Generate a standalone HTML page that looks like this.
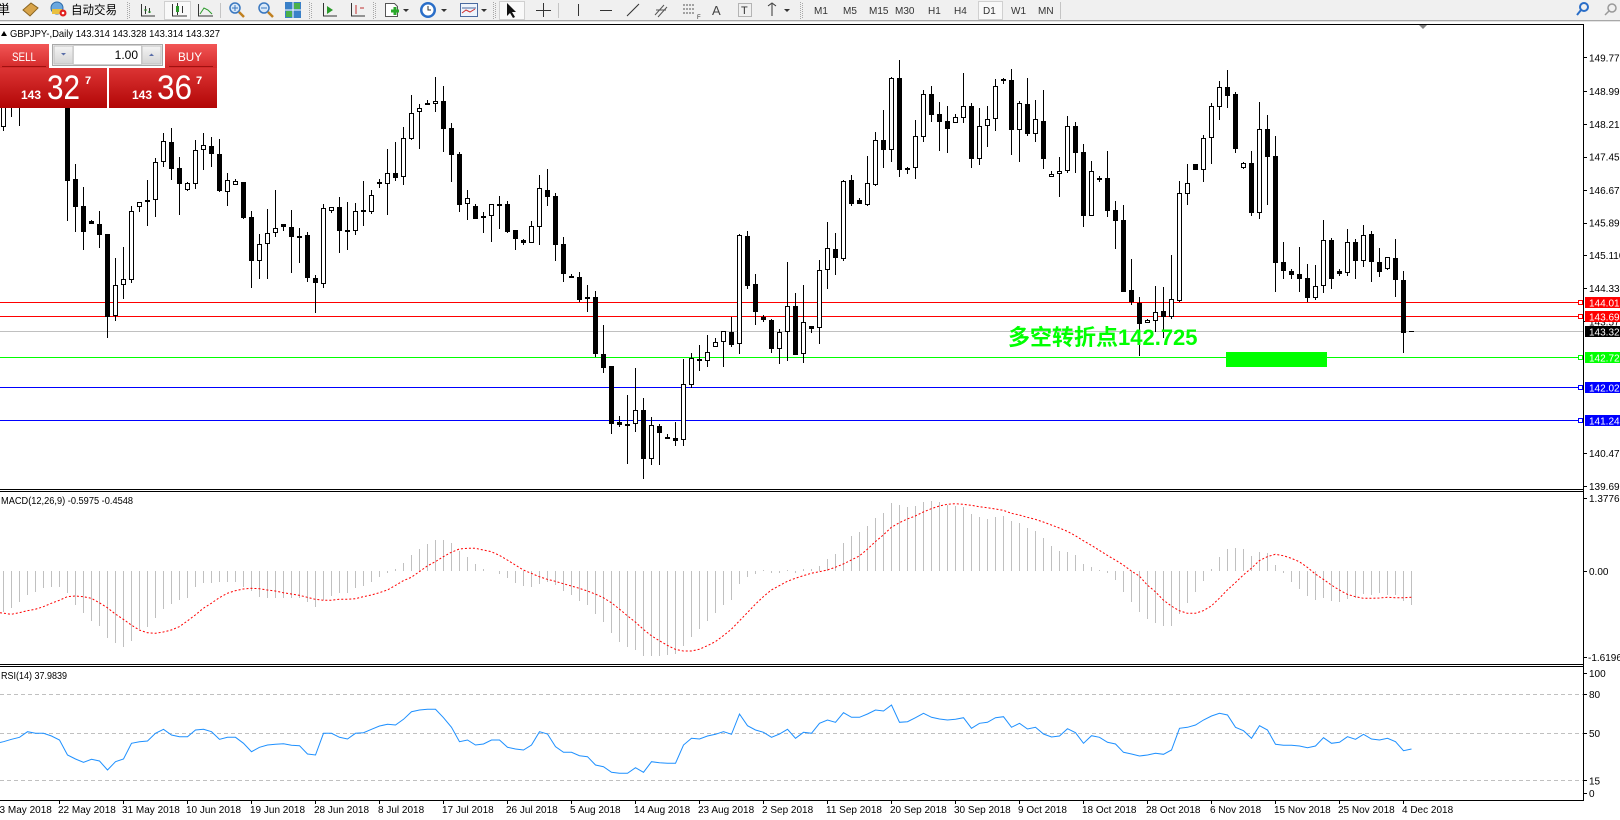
<!DOCTYPE html>
<html><head><meta charset="utf-8"><style>
html,body{margin:0;padding:0;background:#fff;width:1620px;height:820px;overflow:hidden}
svg{display:block}
text{font-family:"Liberation Sans","Noto Sans CJK SC",sans-serif}
</style></head><body>
<svg width="1620" height="820" viewBox="0 0 1620 820" xmlns="http://www.w3.org/2000/svg">
<defs>
<linearGradient id="rh" x1="0" y1="0" x2="0" y2="1"><stop offset="0" stop-color="#f25656"/><stop offset="1" stop-color="#d42a2a"/></linearGradient>
<linearGradient id="rp" x1="0" y1="0" x2="0" y2="1"><stop offset="0" stop-color="#dc3434"/><stop offset="1" stop-color="#b20606"/></linearGradient>
<linearGradient id="gb" x1="0" y1="0" x2="0" y2="1"><stop offset="0" stop-color="#f4f4f4"/><stop offset="1" stop-color="#d4d4d4"/></linearGradient>
</defs>
<rect width="1620" height="820" fill="#fff"/>
<!-- toolbar -->
<rect x="0" y="0" width="1620" height="20" fill="#f0f0f0"/>
<line x1="0" y1="20.5" x2="1620" y2="20.5" stroke="#a8a8a8"/>
<line x1="0" y1="21.5" x2="1620" y2="21.5" stroke="#e4e4e4"/>
<text x="-3" y="14" font-size="13" fill="#000" font-family="Noto Sans CJK JP,sans-serif">単</text>
<polygon points="23,10 31,3 38,8 30,16" fill="#d8a44a" stroke="#8a6420"/>
<circle cx="57" cy="8" r="6" fill="#6aa8e0" stroke="#2d6aa8"/>
<path d="M52 9h10v5h-10z" fill="#e8c040"/>
<circle cx="63" cy="13" r="3.5" fill="#e02020"/><circle cx="63" cy="13" r="1.3" fill="#fff"/>
<text x="71" y="14" font-size="12" fill="#000" textLength="46" lengthAdjust="spacingAndGlyphs">自动交易</text>
<g stroke="#a8a8a8" stroke-dasharray="1,1">
<line x1="127.5" y1="2" x2="127.5" y2="19"/><line x1="129.5" y1="3" x2="129.5" y2="19"/>
<line x1="309.5" y1="2" x2="309.5" y2="19"/><line x1="311.5" y1="3" x2="311.5" y2="19"/>
<line x1="373.5" y1="2" x2="373.5" y2="19"/><line x1="375.5" y1="3" x2="375.5" y2="19"/>
<line x1="493.5" y1="2" x2="493.5" y2="19"/><line x1="495.5" y1="3" x2="495.5" y2="19"/>
<line x1="800.5" y1="2" x2="800.5" y2="19"/><line x1="802.5" y1="3" x2="802.5" y2="19"/>
</g>
<path d="M141.5 4V16H155M145.5 6V14M149.5 8V13" stroke="#333" fill="none"/>
<path d="M144 10h3M148 12h3" stroke="#2a9a2a"/>
<rect x="164.5" y="1.5" width="26" height="18" fill="#f9f9f9" stroke="#d0d0d0"/>
<path d="M172.5 4V16H187M177.5 3V15M182.5 6V13" stroke="#333" fill="none"/>
<rect x="176" y="6" width="3" height="6" fill="#2a9a2a"/>
<path d="M198.5 4V16H213" stroke="#333" fill="none"/>
<path d="M200 14L204 8L208 10L212 14" stroke="#2a9a2a" fill="none"/>
<line x1="220.5" y1="3" x2="220.5" y2="18" stroke="#c4c4c4"/>
<circle cx="235" cy="8" r="5" fill="#d8e8f8" stroke="#3a78c0" stroke-width="1.5"/>
<path d="M239 12l5 5" stroke="#c08020" stroke-width="2.5"/>
<path d="M232 8h6M235 5v6" stroke="#3a78c0"/>
<circle cx="264" cy="8" r="5" fill="#d8e8f8" stroke="#3a78c0" stroke-width="1.5"/>
<path d="M268 12l5 5" stroke="#c08020" stroke-width="2.5"/>
<path d="M261 8h6" stroke="#3a78c0"/>
<rect x="285" y="2" width="16" height="16" fill="#3a80c8"/>
<path d="M285 10h16M293 2v16" stroke="#fff"/>
<rect x="286" y="11" width="6" height="6" fill="#4ab04a"/><rect x="294" y="3" width="6" height="6" fill="#4ab04a"/>
<path d="M323.5 3V16H337" stroke="#333" fill="none"/><path d="M327 6l6 4-6 4z" fill="#2a9a2a"/>
<path d="M351.5 3V16H365" stroke="#333" fill="none"/><path d="M356 5v9M360 8h4" stroke="#c03030"/>
<path d="M385.5 3.5h9l3 3v10h-12z" fill="#fff" stroke="#555"/>
<path d="M391 11h8M395 7v8" stroke="#2aa82a" stroke-width="3"/>
<path d="M403 9l3 3 3-3z" fill="#333"/>
<circle cx="428" cy="10" r="8" fill="#2a6ec8"/><circle cx="428" cy="10" r="5.5" fill="#fff"/>
<path d="M428 6v4h3" stroke="#333" fill="none"/>
<path d="M441 9l3 3 3-3z" fill="#333"/>
<rect x="460.5" y="3.5" width="17" height="13" fill="#eef4fc" stroke="#4a6aa0"/>
<path d="M462 8h14" stroke="#4a6aa0"/><path d="M462 13l4-3 4 2 5-3" stroke="#d03030" fill="none"/>
<path d="M481 9l3 3 3-3z" fill="#333"/>
<rect x="499.5" y="1.5" width="25" height="18" fill="#f9f9f9" stroke="#d0d0d0"/>
<path d="M507 3v13l3-3 3 5 2-1-3-5h4z" fill="#111"/>
<path d="M543.5 3v14M536 10.5h15" stroke="#333"/>
<line x1="558.5" y1="3" x2="558.5" y2="18" stroke="#c4c4c4"/>
<path d="M578.5 4v12" stroke="#333"/>
<path d="M600 10.5h12" stroke="#333"/>
<path d="M627 16l12-12" stroke="#333"/>
<path d="M655 15l9-10M658 17l9-10M656 10h10" stroke="#555"/>
<path d="M683 5h12M683 9h12M683 13h12" stroke="#555" stroke-dasharray="2,1"/>
<text x="697" y="19" font-size="6" fill="#333">F</text>
<text x="712" y="15" font-size="13" fill="#444">A</text>
<rect x="738.5" y="3.5" width="13" height="13" fill="none" stroke="#777" stroke-dasharray="1,1"/>
<text x="741" y="14" font-size="11" fill="#333">T</text>
<path d="M768 6l4-3 4 3M772 4v12" stroke="#333" fill="none"/>
<path d="M784 9l3 3 3-3z" fill="#333"/>
<path d="M777 9l3 3 3-3z" fill="none"/>
<g font-size="10" fill="#333">
<text x="814" y="14">M1</text><text x="843" y="14">M5</text><text x="869" y="14">M15</text><text x="895" y="14">M30</text>
<text x="928" y="14">H1</text><text x="954" y="14">H4</text>
</g>
<rect x="978.5" y="1.5" width="24" height="18" fill="#f8f8f8" stroke="#d0d0d0"/>
<g font-size="10" fill="#333"><text x="983" y="14">D1</text><text x="1011" y="14">W1</text><text x="1038" y="14">MN</text></g>
<line x1="1060.5" y1="2" x2="1060.5" y2="19" stroke="#c4c4c4"/>
<circle cx="1584" cy="7" r="4" fill="none" stroke="#2a6ec8" stroke-width="2"/>
<path d="M1581 10l-4 5" stroke="#2a6ec8" stroke-width="2"/>
<circle cx="1612" cy="8" r="4" fill="none" stroke="#999" stroke-width="1.5"/>
<path d="M1609 11l-4 4" stroke="#999" stroke-width="1.5"/>

<!-- header -->
<path d="M1 36l3-5 3 5z" fill="#000"/>
<text x="10" y="37" font-size="10.5" fill="#000" textLength="210" lengthAdjust="spacingAndGlyphs">GBPJPY-,Daily  143.314 143.328 143.314 143.327</text>

<!-- horizontal object lines -->
<line x1="0" y1="302.5" x2="1578" y2="302.5" stroke="#ff0000"/>
<line x1="0" y1="316.5" x2="1578" y2="316.5" stroke="#ff0000"/>
<line x1="0" y1="331.5" x2="1583" y2="331.5" stroke="#c0c0c0"/>
<line x1="0" y1="357.5" x2="1578" y2="357.5" stroke="#00ff00"/>
<line x1="0" y1="387.5" x2="1578" y2="387.5" stroke="#0000ff"/>
<line x1="0" y1="420.5" x2="1578" y2="420.5" stroke="#0000ff"/>
<g fill="#fff">
<rect x="1578.5" y="300.5" width="4" height="4" stroke="#ff0000"/>
<rect x="1578.5" y="314.5" width="4" height="4" stroke="#ff0000"/>
<rect x="1578.5" y="355.5" width="4" height="4" stroke="#00ff00"/>
<rect x="1578.5" y="385.5" width="4" height="4" stroke="#0000ff"/>
<rect x="1578.5" y="418.5" width="4" height="4" stroke="#0000ff"/>
</g>

<!-- candles: wicks -->
<path stroke="#000" stroke-width="1" fill="none" d="M3.5 90V131M11.5 96V117M19.5 100V126M27.5 75V100M35.5 72V98M43.5 70V100M51.5 74V102M59.5 76V103M67.5 95V221M75.5 164V232M83.5 187V250M91.5 220V224M99.5 211V248M107.5 234V338M115.5 258V321M123.5 247V299M131.5 206V283M139.5 202V212M147.5 180V226M155.5 158V217M163.5 133V167M171.5 128V180M179.5 157V215M187.5 182V191M195.5 140V189M203.5 133V170M211.5 137V167M219.5 139V192M227.5 173V206M235.5 179V185M243.5 182V219M251.5 211V288M259.5 234V279M267.5 209V279M275.5 190V237M283.5 224V231M291.5 210V273M299.5 228V263M307.5 232V282M315.5 275V313M323.5 204V288M331.5 207V213M339.5 197V253M347.5 202V250M355.5 203V235M363.5 181V226M371.5 190V214M379.5 179V188M387.5 149V215M395.5 142V181M403.5 127V185M411.5 95V140M419.5 104V149M427.5 100V104M435.5 77V112M443.5 86V152M451.5 123V182M459.5 152V212M467.5 190V220M475.5 204V219M483.5 212V233M491.5 204V242M499.5 196V229M507.5 201V233M515.5 230V250M523.5 239V245M531.5 221V243M539.5 175V245M547.5 169V206M555.5 193V261M563.5 237V282M571.5 274V278M579.5 272V302M587.5 285V312M595.5 291V357M603.5 325V373M611.5 366V434M619.5 416V427M627.5 395V464M635.5 368V432M643.5 398V479M651.5 417V465M659.5 424V465M667.5 434V439M675.5 422V446M683.5 359V446M691.5 353V388M699.5 345V371M707.5 335V367M715.5 338V347M723.5 331V367M731.5 317V347M739.5 234V354M747.5 231V289M755.5 274V325M763.5 315V322M771.5 319V353M779.5 329V364M787.5 262V361M795.5 293V355M803.5 285V363M811.5 326V333M819.5 260V344M827.5 222V289M835.5 233V275M843.5 180V261M851.5 175V206M859.5 198V204M867.5 156V206M875.5 132V186M883.5 110V168M891.5 77V162M899.5 60V177M907.5 167V174M915.5 120V179M923.5 90V142M931.5 86V122M939.5 102V151M947.5 106V153M955.5 114V123M963.5 73V123M971.5 103V168M979.5 108V165M987.5 106V147M995.5 79V131M1003.5 78V84M1011.5 69V155M1019.5 101V162M1027.5 78V136M1035.5 100V142M1043.5 90V169M1051.5 171V177M1059.5 157V197M1067.5 116V173M1075.5 122V173M1083.5 144V227M1091.5 161V216M1099.5 176V182M1107.5 151V217M1115.5 201V249M1123.5 205V292M1131.5 259V305M1139.5 297V356M1147.5 319V323M1155.5 286V332M1163.5 287V338M1171.5 255V319M1179.5 181V302M1187.5 164V205M1195.5 164V170M1203.5 135V182M1211.5 103V164M1219.5 81V120M1227.5 70V108M1235.5 92V153M1243.5 162V169M1251.5 151V216M1259.5 102V219M1267.5 115V205M1275.5 136V292M1283.5 242V279M1291.5 269V279M1299.5 247V292M1307.5 264V302M1315.5 265V300M1323.5 220V293M1331.5 238V289M1339.5 269V276M1347.5 229V276M1355.5 239V279M1363.5 225V267M1371.5 231V282M1379.5 248V277M1387.5 257V270M1395.5 239V297M1403.5 271V353"/>
<!-- black bodies -->
<path fill="#000" d="M17 103h5V107h-5zM25 80h5V95h-5zM41 76h5V90h-5zM57 82h5V96h-5zM65 100h5V181h-5zM73 179h5V207h-5zM81 206h5V232h-5zM89 221h5V224h-5zM97 224h5V235h-5zM105 234h5V317h-5zM169 142h5V169h-5zM177 168h5V184h-5zM209 146h5V154h-5zM217 154h5V191h-5zM241 182h5V218h-5zM249 217h5V261h-5zM281 224h5V227h-5zM289 227h5V237h-5zM297 236h5V238h-5zM305 235h5V278h-5zM313 278h5V283h-5zM337 207h5V231h-5zM345 230h5V232h-5zM361 210h5V212h-5zM377 182h5V184h-5zM393 173h5V178h-5zM425 103h5V105h-5zM441 101h5V129h-5zM449 128h5V155h-5zM457 154h5V205h-5zM473 206h5V219h-5zM497 204h5V206h-5zM505 204h5V232h-5zM513 230h5V239h-5zM521 240h5V243h-5zM545 190h5V197h-5zM553 196h5V245h-5zM561 244h5V274h-5zM569 276h5V278h-5zM577 277h5V300h-5zM593 297h5V354h-5zM601 354h5V368h-5zM609 366h5V424h-5zM617 422h5V425h-5zM625 424h5V426h-5zM641 410h5V459h-5zM657 426h5V433h-5zM665 437h5V439h-5zM673 438h5V441h-5zM697 359h5V361h-5zM729 332h5V345h-5zM745 236h5V286h-5zM753 284h5V312h-5zM761 317h5V320h-5zM769 320h5V349h-5zM793 306h5V355h-5zM809 326h5V329h-5zM833 249h5V258h-5zM849 180h5V204h-5zM857 200h5V204h-5zM881 140h5V150h-5zM897 78h5V170h-5zM905 168h5V170h-5zM929 94h5V115h-5zM937 114h5V122h-5zM945 121h5V129h-5zM969 106h5V159h-5zM1001 79h5V81h-5zM1009 80h5V130h-5zM1025 104h5V134h-5zM1041 121h5V159h-5zM1073 126h5V153h-5zM1081 152h5V216h-5zM1097 178h5V180h-5zM1105 178h5V211h-5zM1113 210h5V221h-5zM1121 220h5V292h-5zM1129 290h5V302h-5zM1137 303h5V324h-5zM1161 311h5V317h-5zM1193 164h5V170h-5zM1225 87h5V96h-5zM1233 94h5V149h-5zM1249 163h5V213h-5zM1265 129h5V157h-5zM1273 156h5V263h-5zM1281 262h5V271h-5zM1289 271h5V275h-5zM1297 274h5V279h-5zM1305 278h5V298h-5zM1329 240h5V279h-5zM1337 271h5V274h-5zM1353 242h5V261h-5zM1369 234h5V262h-5zM1377 262h5V272h-5zM1393 258h5V280h-5zM1401 280h5V333h-5zM1409 331h5V332h-5z"/>
<!-- white bodies -->
<g fill="#fff" stroke="#000" stroke-width="1">
<rect x="1.5" y="98.5" width="4" height="28"/><rect x="9.5" y="98.5" width="4" height="6"/><rect x="33.5" y="78.5" width="4" height="13"/><rect x="49.5" y="80.5" width="4" height="14"/>
<rect x="113.5" y="285.5" width="4" height="30"/><rect x="121.5" y="279.5" width="4" height="5"/><rect x="129.5" y="211.5" width="4" height="68"/><rect x="137.5" y="202.5" width="4" height="4"/>
<rect x="145.5" y="200.5" width="4" height="1"/><rect x="153.5" y="162.5" width="4" height="37"/><rect x="161.5" y="141.5" width="4" height="20"/><rect x="185.5" y="183.5" width="4" height="6"/>
<rect x="193.5" y="150.5" width="4" height="33"/><rect x="201.5" y="145.5" width="4" height="4"/><rect x="225.5" y="180.5" width="4" height="11"/><rect x="233.5" y="181.5" width="4" height="3"/>
<rect x="257.5" y="244.5" width="4" height="16"/><rect x="265.5" y="233.5" width="4" height="10"/><rect x="273.5" y="228.5" width="4" height="4"/><rect x="321.5" y="208.5" width="4" height="75"/>
<rect x="329.5" y="207.5" width="4" height="3"/><rect x="353.5" y="211.5" width="4" height="19"/><rect x="369.5" y="195.5" width="4" height="16"/><rect x="385.5" y="173.5" width="4" height="10"/>
<rect x="401.5" y="138.5" width="4" height="38"/><rect x="409.5" y="113.5" width="4" height="25"/><rect x="417.5" y="108.5" width="4" height="3"/><rect x="433.5" y="101.5" width="4" height="2"/>
<rect x="465.5" y="198.5" width="4" height="5"/><rect x="481.5" y="216.5" width="4" height="1"/><rect x="489.5" y="204.5" width="4" height="11"/><rect x="529.5" y="226.5" width="4" height="16"/>
<rect x="537.5" y="188.5" width="4" height="38"/><rect x="585.5" y="297.5" width="4" height="1"/><rect x="633.5" y="410.5" width="4" height="13"/><rect x="649.5" y="425.5" width="4" height="33"/>
<rect x="681.5" y="384.5" width="4" height="55"/><rect x="689.5" y="358.5" width="4" height="26"/><rect x="705.5" y="352.5" width="4" height="8"/><rect x="713.5" y="342.5" width="4" height="4"/>
<rect x="721.5" y="331.5" width="4" height="10"/><rect x="737.5" y="235.5" width="4" height="108"/><rect x="777.5" y="332.5" width="4" height="16"/><rect x="785.5" y="306.5" width="4" height="25"/>
<rect x="801.5" y="322.5" width="4" height="31"/><rect x="817.5" y="270.5" width="4" height="57"/><rect x="825.5" y="248.5" width="4" height="21"/><rect x="841.5" y="181.5" width="4" height="77"/>
<rect x="865.5" y="183.5" width="4" height="21"/><rect x="873.5" y="140.5" width="4" height="44"/><rect x="889.5" y="78.5" width="4" height="71"/><rect x="913.5" y="136.5" width="4" height="31"/>
<rect x="921.5" y="94.5" width="4" height="42"/><rect x="953.5" y="117.5" width="4" height="5"/><rect x="961.5" y="106.5" width="4" height="11"/><rect x="977.5" y="126.5" width="4" height="32"/>
<rect x="985.5" y="119.5" width="4" height="6"/><rect x="993.5" y="86.5" width="4" height="32"/><rect x="1017.5" y="103.5" width="4" height="26"/><rect x="1033.5" y="119.5" width="4" height="14"/>
<rect x="1049.5" y="174.5" width="4" height="2"/><rect x="1057.5" y="171.5" width="4" height="2"/><rect x="1065.5" y="126.5" width="4" height="44"/><rect x="1089.5" y="171.5" width="4" height="44"/>
<rect x="1145.5" y="320.5" width="4" height="2"/><rect x="1153.5" y="312.5" width="4" height="8"/><rect x="1169.5" y="299.5" width="4" height="17"/><rect x="1177.5" y="193.5" width="4" height="107"/>
<rect x="1185.5" y="183.5" width="4" height="10"/><rect x="1201.5" y="138.5" width="4" height="31"/><rect x="1209.5" y="106.5" width="4" height="31"/><rect x="1217.5" y="87.5" width="4" height="19"/>
<rect x="1241.5" y="163.5" width="4" height="4"/><rect x="1257.5" y="129.5" width="4" height="83"/><rect x="1313.5" y="286.5" width="4" height="11"/><rect x="1321.5" y="240.5" width="4" height="45"/>
<rect x="1345.5" y="242.5" width="4" height="30"/><rect x="1361.5" y="235.5" width="4" height="25"/><rect x="1385.5" y="257.5" width="4" height="11"/>
</g>

<!-- annotation -->
<text x="1008" y="345" font-size="22" font-weight="bold" fill="#00ff00">多空转折点142.725</text>
<rect x="1226" y="352" width="101" height="15" fill="#00ff00"/>

<!-- chart shift marker -->
<polygon points="1419,25 1427,25 1423,29" fill="#808080"/>

<!-- SELL / BUY panel -->
<rect x="0" y="44" width="49" height="24" fill="url(#rh)"/>
<line x1="2" y1="66.5" x2="46" y2="66.5" stroke="#a01010"/>
<text x="24" y="61" font-size="12" fill="#fff" text-anchor="middle" textLength="24" lengthAdjust="spacingAndGlyphs">SELL</text>
<rect x="52.5" y="44.5" width="110" height="21" fill="#f4f4f4" stroke="#a8a8a8"/>
<rect x="54" y="46" width="19" height="18" fill="url(#gb)" stroke="#c0c0c0"/>
<rect x="73.5" y="45.5" width="68" height="19" fill="#fff" stroke="#d0d0d0"/>
<rect x="142" y="46" width="19" height="18" fill="url(#gb)" stroke="#c0c0c0"/>
<path d="M61 53l2.5 2.5 2.5-2.5z" fill="#5a6ea8"/>
<path d="M149 56l2.5-2.5 2.5 2.5z" fill="#5a6ea8"/>
<text x="138" y="59" font-size="12" fill="#000" text-anchor="end">1.00</text>
<rect x="165" y="44" width="52" height="24" fill="url(#rh)"/>
<line x1="169" y1="66.5" x2="213" y2="66.5" stroke="#a01010"/>
<text x="190" y="61" font-size="12" fill="#fff" text-anchor="middle" textLength="24" lengthAdjust="spacingAndGlyphs">BUY</text>
<rect x="0" y="68" width="107" height="40" fill="url(#rp)"/>
<rect x="109" y="68" width="108" height="40" fill="url(#rp)"/>
<g fill="#fff">
<text x="21" y="99" font-size="12" font-weight="bold" textLength="20" lengthAdjust="spacingAndGlyphs">143</text>
<text x="47" y="99" font-size="34" textLength="33" lengthAdjust="spacingAndGlyphs">32</text>
<text x="85" y="84" font-size="11" font-weight="bold">7</text>
<text x="132" y="99" font-size="12" font-weight="bold" textLength="20" lengthAdjust="spacingAndGlyphs">143</text>
<text x="157" y="99" font-size="34" textLength="35" lengthAdjust="spacingAndGlyphs">36</text>
<text x="196" y="84" font-size="11" font-weight="bold">7</text>
</g>

<!-- MACD histogram -->
<path stroke="#c0c0c0" stroke-width="1" fill="none" d="M3.5 571V612M11.5 571V608M19.5 571V602M27.5 571V595M35.5 571V592M43.5 571V588M51.5 571V587M59.5 571V587M67.5 571V593M75.5 571V605M83.5 571V613M91.5 571V621M99.5 571V626M107.5 571V638M115.5 571V643M123.5 571V647M131.5 571V641M139.5 571V629M147.5 571V627M155.5 571V618M163.5 571V609M171.5 571V604M179.5 571V600M187.5 571V598M195.5 571V587M203.5 571V583M211.5 571V583M219.5 571V582M227.5 571V582M235.5 571V582M243.5 571V587M251.5 571V591M259.5 571V597M267.5 571V598M275.5 571V598M283.5 571V598M291.5 571V598M299.5 571V598M307.5 571V602M315.5 571V607M323.5 571V600M331.5 571V596M339.5 571V593M347.5 571V593M355.5 571V588M363.5 571V586M371.5 571V582M379.5 571V577M387.5 571V573M395.5 571V569M403.5 571V563M411.5 571V555M419.5 571V549M427.5 571V544M435.5 571V540M443.5 571V540M451.5 571V543M459.5 571V551M467.5 571V557M475.5 571V564M483.5 571V569M499.5 571V574M507.5 571V578M515.5 571V583M523.5 571V586M531.5 571V587M539.5 571V584M547.5 571V582M555.5 571V585M563.5 571V591M571.5 571V595M579.5 571V601M587.5 571V605M595.5 571V614M603.5 571V622M611.5 571V633M619.5 571V642M627.5 571V647M635.5 571V650M643.5 571V656M651.5 571V656M659.5 571V656M667.5 571V655M675.5 571V654M683.5 571V646M691.5 571V637M699.5 571V629M707.5 571V621M715.5 571V613M723.5 571V605M731.5 571V600M739.5 571V584M747.5 571V577M755.5 571V574M763.5 571V570M771.5 571V573M779.5 571V573M787.5 571V570M795.5 571V573M803.5 571V569M811.5 571V569M819.5 571V566M827.5 571V559M835.5 571V554M843.5 571V543M851.5 571V536M859.5 571V532M867.5 571V526M875.5 571V518M883.5 571V513M891.5 571V503M899.5 571V505M907.5 571V507M915.5 571V506M923.5 571V502M931.5 571V501M939.5 571V502M947.5 571V505M955.5 571V506M963.5 571V507M971.5 571V514M979.5 571V517M987.5 571V519M995.5 571V517M1003.5 571V516M1011.5 571V521M1019.5 571V523M1027.5 571V528M1035.5 571V531M1043.5 571V538M1051.5 571V546M1059.5 571V551M1067.5 571V552M1075.5 571V555M1083.5 571V564M1091.5 571V567M1099.5 571V570M1107.5 571V573M1115.5 571V580M1123.5 571V592M1131.5 571V602M1139.5 571V612M1147.5 571V619M1155.5 571V623M1163.5 571V626M1171.5 571V626M1179.5 571V614M1187.5 571V603M1195.5 571V592M1203.5 571V581M1211.5 571V569M1219.5 571V557M1227.5 571V549M1235.5 571V548M1243.5 571V549M1251.5 571V556M1259.5 571V552M1267.5 571V553M1275.5 571V565M1283.5 571V573M1291.5 571V582M1299.5 571V589M1307.5 571V596M1315.5 571V600M1323.5 571V598M1331.5 571V601M1339.5 571V602M1347.5 571V599M1355.5 571V598M1363.5 571V594M1371.5 571V595M1379.5 571V593M1387.5 571V595M1395.5 571V595M1403.5 571V601M1411.5 571V605"/>
<!-- MACD signal -->
<polyline fill="none" stroke="#ff0000" stroke-width="1" stroke-dasharray="2,2" points="0,612.7 11.3,614.3 19.3,612.7 27.3,610.7 35.3,609.3 43.3,606.7 51.3,603.3 59.3,600.3 67.3,596.7 75.3,596 83.3,596.7 91.3,598.3 99.3,602.7 107.3,607.7 115.3,614 123.3,619.3 131.3,625 139.3,630 147.3,632.7 155.3,633.3 163.3,632 171.3,630 179.3,626.7 187.3,621 195.3,615 203.3,608.3 211.3,603.3 219.3,597.7 227.3,593.3 235.3,590.7 243.3,589 251.3,588.3 259.3,588.7 267.3,590 275.3,591 283.3,592.7 291.3,594 299.3,595.3 307.3,597.3 315.3,599.3 323.3,600.3 331.3,600.3 339.3,599.3 347.3,599.3 355.3,598.7 363.3,596.7 371.3,595 379.3,592.7 387.3,590 395.3,585.5 403.3,580.7 411.3,577.3 419.3,571.7 427.3,566 435.3,561.7 443.3,556.7 451.3,552.3 459.3,549 467.3,548.3 475.3,548.3 483.3,550 491.3,551.7 499.3,555.3 507.3,560 515.3,565 523.3,570 531.3,573.3 539.3,576.7 547.3,579.3 555.3,581.3 563.3,583.7 571.3,586 579.3,588.3 587.3,591 595.3,594 603.3,597.7 611.3,602.7 619.3,609 627.3,615.7 635.3,622 643.3,629.3 651.3,635.7 659.3,640.7 667.3,645.3 675.3,649.3 683.3,651 691.3,651 699.3,649.3 707.3,645.7 715.3,641.7 723.3,635.7 731.3,629.3 739.3,621 747.3,612.7 755.3,604.3 763.3,596.7 771.3,590 779.3,585.7 787.3,581.3 795.3,578.3 803.3,575.7 811.3,573.3 819.3,571.7 827.3,570 835.3,567.3 843.3,564 851.3,560 859.3,556 867.3,549.3 875.3,541.7 883.3,535 891.3,527.3 899.3,522.7 907.3,519 915.3,516 923.3,512 931.3,508.7 939.3,506 947.3,504.3 955.3,503.7 963.3,504.3 971.3,505.3 979.3,506.7 987.3,507.7 995.3,509 1003.3,510.3 1011.3,513.3 1019.3,515 1027.3,517.3 1035.3,519.3 1043.3,522 1051.3,525 1059.3,528 1067.3,531.3 1075.3,535.7 1083.3,540.7 1091.3,545.3 1099.3,550.3 1107.3,555.3 1115.3,560 1123.3,565 1131.3,571 1139.3,576 1147.3,585 1155.3,591.7 1163.3,600 1171.3,606 1179.3,610.7 1187.3,613.3 1195.3,613.3 1203.3,610.7 1211.3,606 1219.3,598.3 1227.3,590 1235.3,582.7 1243.3,575 1251.3,568.3 1259.3,560.7 1267.3,556.7 1275.3,554.3 1283.3,555.7 1291.3,558.3 1299.3,561.7 1307.3,567.3 1315.3,574 1323.3,579.3 1331.3,585 1339.3,590 1347.3,594.3 1355.3,596.7 1363.3,598.3 1371.3,598.3 1379.3,598 1387.3,597.3 1395.3,597.7 1403.3,597.7 1411.3,597.3"/>

<!-- RSI levels -->
<g stroke="#c0c0c0" stroke-dasharray="4,3">
<line x1="0" y1="694.5" x2="1583" y2="694.5"/>
<line x1="0" y1="733.5" x2="1583" y2="733.5"/>
<line x1="0" y1="780.5" x2="1583" y2="780.5"/>
</g>
<polyline fill="none" stroke="#1e90ff" stroke-width="1" points="0,742.5 3.5,741.7 11.5,739.3 19.5,737.3 27.5,731.7 35.5,733.3 43.5,733.3 51.5,736 59.5,740 67.5,755 75.5,759 83.5,762.3 91.5,759.3 99.5,761 107.5,770 115.5,761.7 123.5,759 131.5,743.3 139.5,741.7 147.5,741 155.5,733.3 163.5,729.3 171.5,735 179.5,736.7 187.5,736.7 195.5,730 203.5,729.3 211.5,731.7 219.5,739.3 227.5,737.3 235.5,737.3 243.5,743.3 251.5,751.7 259.5,747.3 267.5,745 275.5,744.3 283.5,743.7 291.5,745.3 299.5,745.7 307.5,754 315.5,755 323.5,733.3 331.5,733.3 339.5,737.3 347.5,739 355.5,733.3 363.5,732.7 371.5,729.3 379.5,726 387.5,724.3 395.5,725 403.5,719.3 411.5,711.7 419.5,710 427.5,709.3 435.5,709.3 443.5,717.7 451.5,727.3 459.5,741.7 467.5,740 475.5,745 483.5,744 491.5,740 499.5,740 507.5,747.3 515.5,749 523.5,750 531.5,745 539.5,731.7 547.5,734 555.5,746.7 563.5,752.3 571.5,752.3 579.5,755.7 587.5,756.7 595.5,765 603.5,766.7 611.5,772.3 619.5,773.3 627.5,773.3 635.5,767.7 643.5,772.3 651.5,761.7 659.5,762.7 667.5,763.3 675.5,763.3 683.5,745 691.5,738.3 699.5,739 707.5,736 715.5,734.3 723.5,731.7 731.5,734.3 739.5,714 747.5,725.7 755.5,730 763.5,732.3 771.5,737.3 779.5,734 787.5,729.3 795.5,738.3 803.5,732.3 811.5,733.3 819.5,723.3 827.5,720 835.5,722.3 843.5,712.7 851.5,717.3 859.5,717.3 867.5,714 875.5,710 883.5,711 891.5,705 899.5,722.3 907.5,721.7 915.5,717.7 923.5,713.3 931.5,717.3 939.5,719 947.5,720 955.5,719.3 963.5,717.7 971.5,728.3 979.5,723.3 987.5,722.3 995.5,717.7 1003.5,716.7 1011.5,727.3 1019.5,723.3 1027.5,729 1035.5,727.3 1043.5,734 1051.5,737 1059.5,736 1067.5,728.7 1075.5,732.7 1083.5,743.3 1091.5,735.7 1099.5,737.3 1107.5,742.3 1115.5,744 1123.5,752.3 1131.5,754 1139.5,756 1147.5,755 1155.5,753.3 1163.5,754.3 1171.5,750 1179.5,728.3 1187.5,727.3 1195.5,725 1203.5,720 1211.5,716 1219.5,713.3 1227.5,715 1235.5,727.3 1243.5,730.7 1251.5,738.3 1259.5,725.7 1267.5,730 1275.5,744.3 1283.5,745.3 1291.5,745.3 1299.5,746 1307.5,747.7 1315.5,746 1323.5,737.7 1331.5,743.3 1339.5,742.3 1347.5,736.7 1355.5,739.3 1363.5,734.3 1371.5,739 1379.5,740 1387.5,738.3 1395.5,741.7 1403.5,750.7 1411.5,749"/>

<!-- frames -->
<g stroke="#000" stroke-width="1">
<line x1="0" y1="24.5" x2="1584" y2="24.5"/>
<line x1="1583.5" y1="24" x2="1583.5" y2="801"/>
<line x1="0" y1="489.5" x2="1584" y2="489.5"/>
<line x1="0" y1="491.5" x2="1584" y2="491.5"/>
<line x1="0" y1="664.5" x2="1584" y2="664.5"/>
<line x1="0" y1="666.5" x2="1584" y2="666.5"/>
<line x1="0" y1="800.5" x2="1584" y2="800.5"/>
</g>
<!-- indicator labels -->
<text x="1" y="504" font-size="10" fill="#000" textLength="132" lengthAdjust="spacingAndGlyphs">MACD(12,26,9) -0.5975 -0.4548</text>
<text x="1" y="679" font-size="10" fill="#000" textLength="66" lengthAdjust="spacingAndGlyphs">RSI(14) 37.9839</text>

<!-- price axis -->
<g stroke="#000">
<path d="M1584 57.5h3M1584 91.5h3M1584 124.5h3M1584 157.5h3M1584 190.5h3M1584 223.5h3M1584 255.5h3M1584 288.5h3M1584 321.5h3M1584 453.5h3M1584 486.5h3M1584 498.5h3M1584 571.5h3M1584 657.5h3M1584 673.5h3M1584 694.5h3M1584 733.5h3M1584 780.5h3M1584 793.5h3"/>
</g>
<g font-size="10" fill="#000">
<text x="1589" y="61.5">149.770</text>
<text x="1589" y="95">148.990</text>
<text x="1589" y="128">148.210</text>
<text x="1589" y="160.7">147.450</text>
<text x="1589" y="194">146.670</text>
<text x="1589" y="226.7">145.890</text>
<text x="1589" y="259">145.110</text>
<text x="1589" y="292">144.330</text>
<text x="1589" y="325.5">143.570</text>
<text x="1589" y="457">140.470</text>
<text x="1589" y="490">139.690</text>
<text x="1589" y="502">1.3776</text>
<text x="1589" y="575">0.00</text>
<text x="1588" y="661">-1.6196</text>
<text x="1589" y="677">100</text>
<text x="1589" y="698">80</text>
<text x="1589" y="737">50</text>
<text x="1589" y="784.5">15</text>
<text x="1589" y="797">0</text>
</g>
<rect x="1585" y="297" width="35" height="11" fill="#ff0000"/>
<rect x="1585" y="311" width="35" height="11" fill="#ff0000"/>
<rect x="1585" y="326" width="35" height="11" fill="#000"/>
<rect x="1585" y="352" width="35" height="11" fill="#00ff00"/>
<rect x="1585" y="382" width="35" height="11" fill="#0000ff"/>
<rect x="1585" y="415" width="35" height="11" fill="#0000ff"/>
<g font-size="10" fill="#fff">
<text x="1589" y="306.5">144.015</text>
<text x="1589" y="320.5">143.691</text>
<text x="1589" y="335.5">143.327</text>
<text x="1589" y="361.5">142.725</text>
<text x="1589" y="391.5">142.022</text>
<text x="1589" y="424.5">141.248</text>
</g>

<!-- time axis -->
<path stroke="#000" d="M59.5 801v3M123.5 801v3M187.5 801v3M251.5 801v3M315.5 801v3M379.5 801v3M443.5 801v3M507.5 801v3M571.5 801v3M635.5 801v3M699.5 801v3M763.5 801v3M827.5 801v3M891.5 801v3M955.5 801v3M1019.5 801v3M1083.5 801v3M1147.5 801v3M1211.5 801v3M1275.5 801v3M1339.5 801v3M1403.5 801v3"/>
<g font-size="10" fill="#000">
<text x="-6" y="813">13 May 2018</text>
<text x="58" y="813">22 May 2018</text>
<text x="122" y="813">31 May 2018</text>
<text x="186" y="813">10 Jun 2018</text>
<text x="250" y="813">19 Jun 2018</text>
<text x="314" y="813">28 Jun 2018</text>
<text x="378" y="813">8 Jul 2018</text>
<text x="442" y="813">17 Jul 2018</text>
<text x="506" y="813">26 Jul 2018</text>
<text x="570" y="813">5 Aug 2018</text>
<text x="634" y="813">14 Aug 2018</text>
<text x="698" y="813">23 Aug 2018</text>
<text x="762" y="813">2 Sep 2018</text>
<text x="826" y="813">11 Sep 2018</text>
<text x="890" y="813">20 Sep 2018</text>
<text x="954" y="813">30 Sep 2018</text>
<text x="1018" y="813">9 Oct 2018</text>
<text x="1082" y="813">18 Oct 2018</text>
<text x="1146" y="813">28 Oct 2018</text>
<text x="1210" y="813">6 Nov 2018</text>
<text x="1274" y="813">15 Nov 2018</text>
<text x="1338" y="813">25 Nov 2018</text>
<text x="1402" y="813">4 Dec 2018</text>
</g>
</svg>
</body></html>
